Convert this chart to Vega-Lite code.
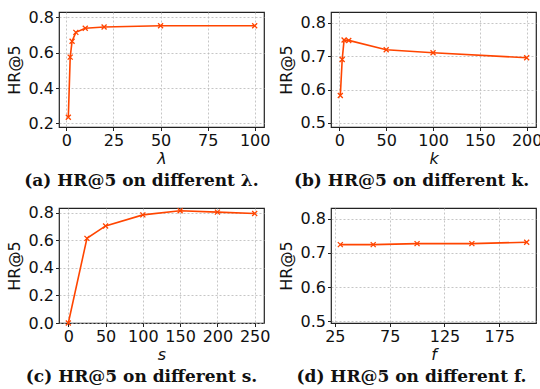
{
  "$schema": "https://vega.github.io/schema/vega-lite/v6.json",
  "background": "white",
  "padding": {"left": 5, "top": 8, "right": 0, "bottom": 0},
  "datasets": {
    "a": [{"x":1,"y":0.235},{"x":2,"y":0.575},{"x":3,"y":0.665},{"x":5,"y":0.715},{"x":10,"y":0.738},{"x":20,"y":0.745},{"x":50,"y":0.752},{"x":100,"y":0.752}],
    "b": [{"x":1,"y":0.582},{"x":3,"y":0.69},{"x":5,"y":0.748},{"x":10,"y":0.747},{"x":50,"y":0.719},{"x":100,"y":0.71},{"x":200,"y":0.695}],
    "c": [{"x":0,"y":0.0},{"x":25,"y":0.614},{"x":50,"y":0.704},{"x":100,"y":0.784},{"x":150,"y":0.814},{"x":200,"y":0.804},{"x":250,"y":0.794}],
    "d": [{"x":30,"y":0.724},{"x":60,"y":0.724},{"x":100,"y":0.727},{"x":150,"y":0.727},{"x":200,"y":0.731}]
  },
  "config": {
    "font": "DejaVu Sans",
    "view": {"stroke": "#222", "strokeWidth": 1.2},
    "axis": {
      "labelFont": "DejaVu Sans", "labelFontSize": 16, "labelColor": "#111",
      "titleFont": "DejaVu Sans", "titleFontSize": 16, "titleFontWeight": "normal", "titleColor": "#111",
      "tickColor": "#222", "tickSize": 3.5, "labelPadding": 2,
      "domain": false,
      "grid": true, "gridColor": "#b8b8b8", "gridDash": [2, 2], "gridWidth": 0.8
    },
    "axisX": {"titleFontStyle": "italic", "titlePadding": 2},
    "axisY": {"titlePadding": 6},
    "title": {"font": "DejaVu Serif", "fontSize": 17, "fontWeight": "bold", "color": "#111", "orient": "bottom", "anchor": "middle"},
    "line": {"color": "#ff4500", "strokeWidth": 1.6},
    "point": {"color": "#ff4500"}
  },
  "spacing": 14,
  "vconcat": [
    {
      "spacing": 6,
      "hconcat": [
        {
          "width": 205, "height": 115,
          "data": {"name": "a"},
          "title": {"text": "(a) HR@5 on different λ.", "offset": 6, "dx": -20},
          "encoding": {
            "x": {"field": "x", "type": "quantitative", "title": "λ", "scale": {"domain": [-3.95, 104.95], "nice": false, "zero": false}, "axis": {"values": [0, 25, 50, 75, 100]}},
            "y": {"field": "y", "type": "quantitative", "title": "HR@5", "scale": {"domain": [0.18, 0.83], "nice": false, "zero": false}, "axis": {"values": [0.2, 0.4, 0.6, 0.8], "format": ".1f"}}
          },
          "layer": [
            {"mark": {"type": "line"}},
            {"mark": {"type": "point", "shape": "M-1,-1L1,1M1,-1L-1,1", "filled": false, "size": 25, "strokeWidth": 1.3, "opacity": 1}}
          ]
        },
        {
          "width": 205, "height": 115,
          "data": {"name": "b"},
          "title": {"text": "(b) HR@5 on different k.", "offset": 6, "dx": -22},
          "encoding": {
            "x": {"field": "x", "type": "quantitative", "title": "k", "scale": {"domain": [-8.95, 209.95], "nice": false, "zero": false}, "axis": {"values": [0, 50, 100, 150, 200]}},
            "y": {"field": "y", "type": "quantitative", "title": "HR@5", "scale": {"domain": [0.488, 0.832], "nice": false, "zero": false}, "axis": {"values": [0.5, 0.6, 0.7, 0.8], "format": ".1f"}}
          },
          "layer": [
            {"mark": {"type": "line"}},
            {"mark": {"type": "point", "shape": "M-1,-1L1,1M1,-1L-1,1", "filled": false, "size": 25, "strokeWidth": 1.3, "opacity": 1}}
          ]
        }
      ]
    },
    {
      "spacing": 6,
      "hconcat": [
        {
          "width": 205, "height": 115,
          "data": {"name": "c"},
          "title": {"text": "(c) HR@5 on different s.", "offset": 6, "dx": -20},
          "encoding": {
            "x": {"field": "x", "type": "quantitative", "title": "s", "scale": {"domain": [-12.5, 262.5], "nice": false, "zero": false}, "axis": {"values": [0, 50, 100, 150, 200, 250]}},
            "y": {"field": "y", "type": "quantitative", "title": "HR@5", "scale": {"domain": [0, 0.834], "nice": false, "zero": false}, "axis": {"values": [0.0, 0.2, 0.4, 0.6, 0.8], "format": ".1f"}}
          },
          "layer": [
            {"mark": {"type": "line"}},
            {"mark": {"type": "point", "shape": "M-1,-1L1,1M1,-1L-1,1", "filled": false, "size": 25, "strokeWidth": 1.3, "opacity": 1}}
          ]
        },
        {
          "width": 205, "height": 115,
          "data": {"name": "d"},
          "title": {"text": "(d) HR@5 on different f.", "offset": 6, "dx": -22},
          "encoding": {
            "x": {"field": "x", "type": "quantitative", "title": "f", "scale": {"domain": [21.5, 208.5], "nice": false, "zero": false}, "axis": {"values": [25, 75, 125, 175]}},
            "y": {"field": "y", "type": "quantitative", "title": "HR@5", "scale": {"domain": [0.495, 0.831], "nice": false, "zero": false}, "axis": {"values": [0.5, 0.6, 0.7, 0.8], "format": ".1f"}}
          },
          "layer": [
            {"mark": {"type": "line"}},
            {"mark": {"type": "point", "shape": "M-1,-1L1,1M1,-1L-1,1", "filled": false, "size": 25, "strokeWidth": 1.3, "opacity": 1}}
          ]
        }
      ]
    }
  ]
}
